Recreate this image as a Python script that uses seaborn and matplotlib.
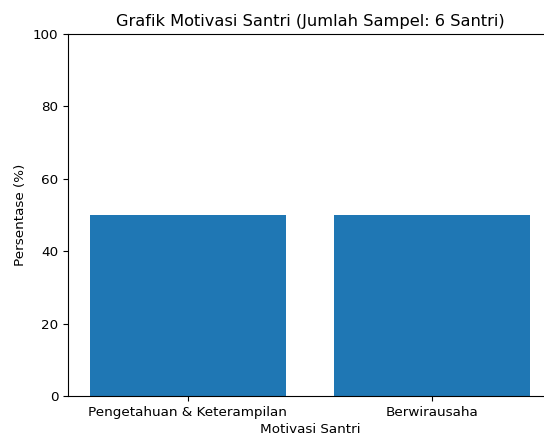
import matplotlib
matplotlib.use("Agg")
import matplotlib.pyplot as plt
import seaborn as sns
import pandas as pd

categories = ["Pengetahuan & Keterampilan", "Berwirausaha"]
values = [50, 50]

df = pd.DataFrame({"Motivasi Santri": categories, "Persentase (%)": values})

plt.rcParams["font.size"] = 9.7
fig = plt.figure(figsize=(5.44, 4.36), dpi=100)
ax = fig.add_axes([68/544, 40/436, (552-68)/544, (396-34)/436])
sns.barplot(data=df, x="Motivasi Santri", y="Persentase (%)", color="#1f77b4",
            saturation=1, width=0.8, ax=ax)
ax.set_xlim(-0.49, 1.49)
ax.set_ylim(0, 100)
ax.tick_params(labelsize=9.7, length=3.4)
ax.set_xlabel("Motivasi Santri", fontsize=9.7, labelpad=3)
ax.set_ylabel("Persentase (%)", fontsize=9.7)
ax.set_title("Grafik Motivasi Santri (Jumlah Sampel: 6 Santri)", fontsize=11.7, pad=5.8)
fig.savefig("out.png", dpi=100)
